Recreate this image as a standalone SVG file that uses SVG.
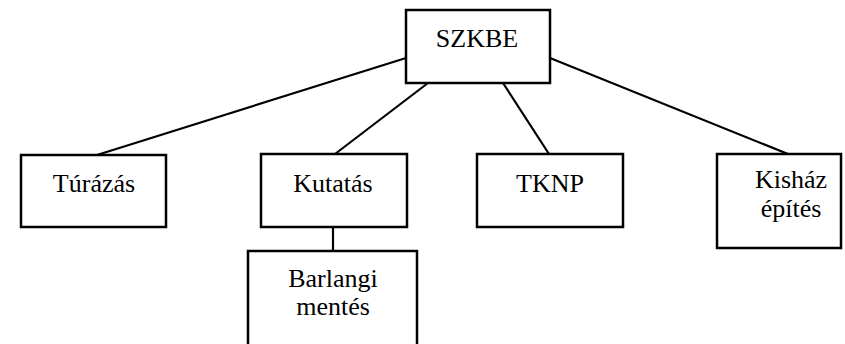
<svg xmlns="http://www.w3.org/2000/svg" width="845" height="344" viewBox="0 0 845 344">
<style>
.box{fill:#fff;stroke:#000;stroke-width:2.5}
.lbl{font-family:"Liberation Serif","Times New Roman",serif;font-size:26px;fill:#000;text-anchor:middle}
.edge{stroke:#000;stroke-width:2.2;fill:none}
</style>
<rect width="845" height="344" fill="#fff"/>
<g id="connectors">
<line class="edge" x1="406" y1="58" x2="97" y2="155"/>
<line class="edge" x1="428" y1="83" x2="335" y2="154"/>
<line class="edge" x1="503" y1="83" x2="549" y2="154"/>
<line class="edge" x1="550" y1="58" x2="788" y2="154"/>
<line class="edge" x1="333" y1="227" x2="333" y2="251"/>
</g>
<g id="szkbe">
<rect class="box" x="406" y="10" width="144" height="73"/>
<text class="lbl" x="477" y="47">SZKBE</text>
</g>
<g id="turazas">
<rect class="box" x="21" y="155" width="145" height="72"/>
<text class="lbl" x="94" y="192">Túrázás</text>
</g>
<g id="kutatas">
<rect class="box" x="261" y="154" width="146" height="73"/>
<text class="lbl" x="333" y="192">Kutatás</text>
</g>
<g id="tknp">
<rect class="box" x="477" y="154" width="146" height="73"/>
<text class="lbl" x="550" y="192">TKNP</text>
</g>
<g id="kishaz">
<rect class="box" x="717" y="154" width="124" height="94"/>
<text class="lbl" x="791" y="188">Kisház</text>
<text class="lbl" x="791" y="217">építés</text>
</g>
<g id="barlangi">
<rect class="box" x="248" y="251" width="169" height="100"/>
<text class="lbl" x="333" y="287">Barlangi</text>
<text class="lbl" x="333" y="315">mentés</text>
</g>
</svg>
